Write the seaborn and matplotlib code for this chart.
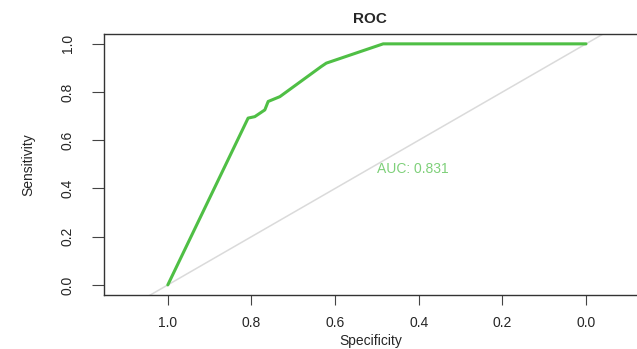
import matplotlib
matplotlib.use("Agg")
import matplotlib.pyplot as plt
import seaborn as sns
import pandas as pd

specificity = [1.0, 0.808, 0.792, 0.768, 0.760, 0.732, 0.633, 0.621, 0.485, 0.0]
sensitivity = [0.0, 0.692, 0.698, 0.726, 0.761, 0.781, 0.906, 0.920, 1.0, 1.0]
auc_text = "AUC: 0.831"
xticks = [1.0, 0.8, 0.6, 0.4, 0.2, 0.0]
yticks = [0.0, 0.2, 0.4, 0.6, 0.8, 1.0]

sns.set_theme(style="white")
plt.rcParams['font.family'] = ['Liberation Sans', 'DejaVu Sans']

fig = plt.figure(figsize=(6.37, 3.49), dpi=100)
ax = fig.add_axes([0.163, 0.155, 0.837, 0.748])

df = pd.DataFrame({"Specificity": specificity, "Sensitivity": sensitivity})

# diagonal reference
diag = pd.DataFrame({"s": [1.3, -0.3], "t": [-0.3, 1.3]})
sns.lineplot(data=diag, x="s", y="t", ax=ax, color="#dadada", linewidth=1.1, sort=False)

sns.lineplot(data=df, x="Specificity", y="Sensitivity", ax=ax, color="#4fbf45",
             linewidth=2.2, sort=False)

ax.text(0.5, 0.48, auc_text, color="#7fd07a", fontsize=10, ha="left", va="center")

ax.set_xlim(1.153, -0.122)
ax.set_ylim(-0.0415, 1.0415)
ax.set_xticks(xticks)
ax.set_xticklabels([f"{v:.1f}" for v in xticks], fontsize=10)
ax.set_yticks(yticks)
ax.set_yticklabels([f"{v:.1f}" for v in yticks], fontsize=10, rotation=90, va="center")
ax.tick_params(axis="x", direction="out", length=7, width=0.8, color="#444444",
               bottom=True, pad=8)
ax.tick_params(axis="y", direction="out", length=9, width=0.8, color="#444444",
               left=True, pad=12)
ax.set_xlabel("Specificity", fontsize=10, labelpad=3)
ax.set_ylabel("Sensitivity", fontsize=10, labelpad=18)
ax.set_title("ROC", fontsize=11, fontweight="bold", pad=8)

for side in ["left", "bottom", "top"]:
    ax.spines[side].set_color("#333333")
    ax.spines[side].set_linewidth(1.0)
ax.spines["right"].set_visible(False)

fig.savefig("out.png", dpi=100)
